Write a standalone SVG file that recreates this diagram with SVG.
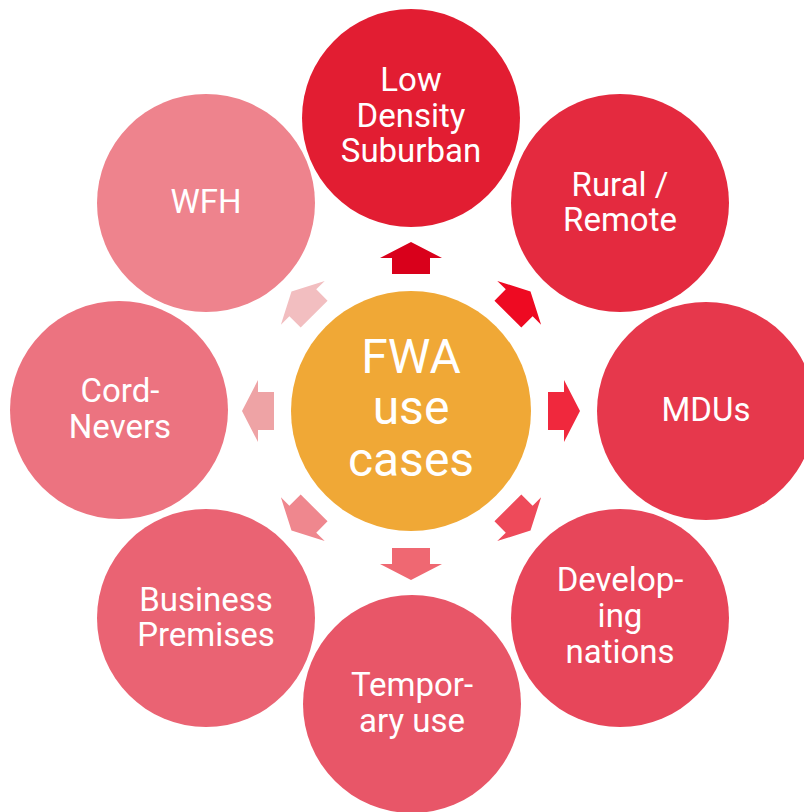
<svg xmlns="http://www.w3.org/2000/svg" width="804" height="812" viewBox="0 0 804 812">
<defs>
<style>
text{font-family:Roboto,"Liberation Sans",sans-serif;fill:#fff;text-anchor:middle}
.o{font-size:33px}
.c{font-size:48px}
</style>
<path id="arr" d="M-19,16 L19,16 L19,0 L31,0 L0,-16 L-31,0 L-19,0 Z"/>
</defs>
<rect width="804" height="812" fill="#fff"/>
<g id="connectors">
<use href="#arr" fill="#D9001B" transform="translate(411,258) rotate(0)"/>
<use href="#arr" fill="#EE0A22" transform="translate(519.2,302.8) rotate(45)"/>
<use href="#arr" fill="#F0283D" transform="translate(564,411) rotate(90)"/>
<use href="#arr" fill="#EE4A5A" transform="translate(519.2,519.2) rotate(135)"/>
<use href="#arr" fill="#EF6872" transform="translate(411,564) rotate(180)"/>
<use href="#arr" fill="#EF878E" transform="translate(302.8,519.2) rotate(225)"/>
<use href="#arr" fill="#EEA3A5" transform="translate(258,411) rotate(270)"/>
<use href="#arr" fill="#F2BEC0" transform="translate(302.8,302.8) rotate(315)"/>
</g>
<g id="center">
<circle cx="411" cy="411" r="120" fill="#F0A836"/>
<text class="c" x="411" y="373">FWA</text>
<text class="c" x="411" y="424">use</text>
<text class="c" x="411" y="476">cases</text>
</g>
<g id="low-density">
<circle cx="411" cy="118" r="109" fill="#E21D32"/>
<text class="o" x="411" y="91">Low</text>
<text class="o" x="411" y="127">Density</text>
<text class="o" x="411" y="162">Suburban</text>
</g>
<g id="rural">
<circle cx="620" cy="203" r="109" fill="#E42A3F"/>
<text class="o" x="620" y="196">Rural /</text>
<text class="o" x="620" y="231">Remote</text>
</g>
<g id="mdus">
<circle cx="706" cy="411" r="109" fill="#E6384C"/>
<text class="o" x="706" y="421">MDUs</text>
</g>
<g id="developing">
<circle cx="620" cy="618" r="109" fill="#E7465A"/>
<text class="o" x="620" y="591">Develop-</text>
<text class="o" x="620" y="627">ing</text>
<text class="o" x="620" y="663">nations</text>
</g>
<g id="temporary">
<circle cx="412" cy="704" r="109" fill="#E85668"/>
<text class="o" x="412" y="696">Tempor-</text>
<text class="o" x="412" y="732">ary use</text>
</g>
<g id="business">
<circle cx="206" cy="618" r="109" fill="#EA6373"/>
<text class="o" x="206" y="611">Business</text>
<text class="o" x="206" y="646">Premises</text>
</g>
<g id="cord-nevers">
<circle cx="119" cy="410" r="109" fill="#EC7380"/>
<text class="o" x="120" y="402">Cord-</text>
<text class="o" x="120" y="438">Nevers</text>
</g>
<g id="wfh">
<circle cx="206" cy="203" r="109" fill="#EE838D"/>
<text class="o" x="206" y="213">WFH</text>
</g>
</svg>
